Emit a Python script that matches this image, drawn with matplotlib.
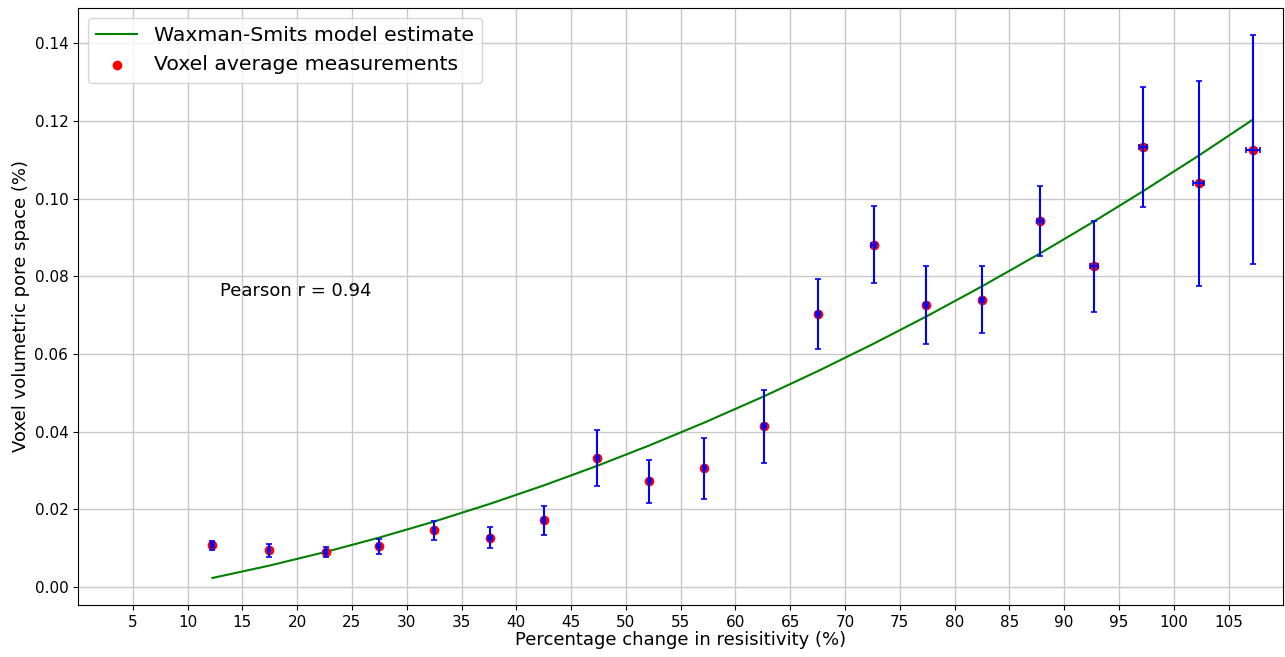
import matplotlib
matplotlib.use("Agg")
import matplotlib.pyplot as plt

# Data
x_vals = [12.27, 17.43, 22.6, 27.45, 32.5, 37.6, 42.5, 47.4, 52.15, 57.15,
          62.6, 67.5, 72.6, 77.4, 82.5, 87.8, 92.7, 97.2, 102.3, 107.2]
y_vals = [0.0107, 0.0094, 0.0089, 0.0104, 0.0146, 0.0127, 0.0171, 0.0331, 0.0272, 0.0305,
          0.0414, 0.0702, 0.0881, 0.0726, 0.0739, 0.0941, 0.0825, 0.1132, 0.1039, 0.1126]
y_err = [0.0011, 0.0016, 0.0013, 0.0020, 0.0024, 0.0027, 0.0037, 0.0072, 0.0056, 0.0079,
         0.0094, 0.0090, 0.0099, 0.0100, 0.0086, 0.0090, 0.0118, 0.0154, 0.0264, 0.0295]
x_err = [0.10, 0.12, 0.12, 0.12, 0.12, 0.15, 0.15, 0.15, 0.15, 0.15,
         0.18, 0.18, 0.2, 0.2, 0.2, 0.25, 0.35, 0.38, 0.5, 0.64]
model_y = [0.00230, 0.00546, 0.00900, 0.01266, 0.01682, 0.02139, 0.02612, 0.03119, 0.03643, 0.04229,
           0.04907, 0.05553, 0.06261, 0.06960, 0.07739, 0.08587, 0.09407, 0.10189, 0.11109, 0.12029]
x_ticks = list(range(5, 110, 5))
pearson_text = "Pearson r = 0.94"

fig = plt.figure(figsize=(12.85, 6.57), dpi=100)
ax = fig.add_axes([0.0607, 0.079, 0.938, 0.909])

ax.plot(x_vals, model_y, color="green", linewidth=1.5, label="Waxman-Smits model estimate", zorder=2)
ax.scatter(x_vals, y_vals, color="red", s=36, label="Voxel average measurements", zorder=3)
ax.errorbar(x_vals, y_vals, yerr=y_err, xerr=x_err, fmt="none", ecolor="blue",
            elinewidth=1.5, capsize=2.5, capthick=1.2, zorder=4)

ax.text(13, 0.075, pearson_text, fontsize=13)

ax.set_xlim(0, 110)
ax.set_xticks(x_ticks)
ax.tick_params(axis="both", labelsize=11)
ax.set_xlabel("Percentage change in resisitivity (%)", fontsize=13, labelpad=1)
ax.set_ylabel("Voxel volumetric pore space (%)", fontsize=13, labelpad=3)
ax.grid(True, color="#c8c8c8", linewidth=1.0)
ax.set_axisbelow(True)
ax.legend(loc="upper left", fontsize=14.7)

fig.savefig("out.png", dpi=100)
